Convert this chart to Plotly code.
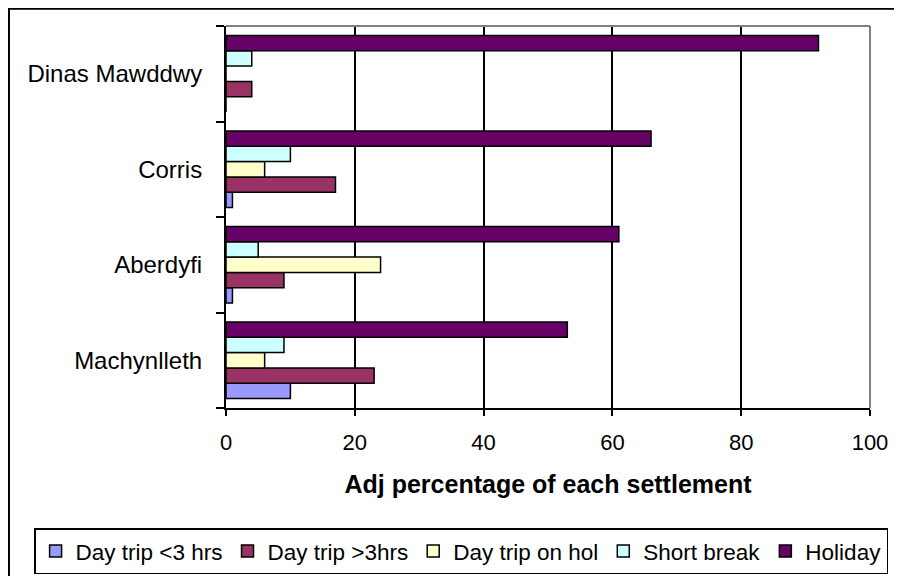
import plotly.graph_objects as go

# --- DATA ---
settlements = ["Machynlleth", "Aberdyfi", "Corris", "Dinas Mawddwy"]
day_trip_under3 = [10, 1, 1, 0]
day_trip_over3 = [23, 9, 17, 4]
day_trip_on_hol = [6, 24, 6, 0]
short_break = [9, 5, 10, 4]
holiday = [53, 61, 66, 92]

series = [
    ("Day trip <3 hrs", day_trip_under3, "#9999FF"),
    ("Day trip >3hrs", day_trip_over3, "#993366"),
    ("Day trip on hol", day_trip_on_hol, "#FFFFCC"),
    ("Short break", short_break, "#CCFFFF"),
    ("Holiday", holiday, "#660066"),
]

FONT = "Arial, Liberation Sans, sans-serif"

fig = go.Figure()
for name, vals, col in series:
    fig.add_trace(
        go.Bar(
            y=settlements,
            x=vals,
            name=name,
            orientation="h",
            marker=dict(color=col, line=dict(color="black", width=1.5)),
        )
    )

# page body has an 8px margin, so the figure is laid out 8px up/left
fig.update_layout(
    width=902,
    height=576,
    margin=dict(l=218, r=40, t=18, b=176, autoexpand=False),
    paper_bgcolor="white",
    plot_bgcolor="white",
    barmode="group",
    bargap=0.2,
    bargroupgap=0,
    font=dict(family=FONT, size=22, color="black"),
    legend=dict(
        orientation="h",
        x=-0.298,
        xanchor="left",
        y=-0.315,
        yanchor="top",
        bordercolor="black",
        borderwidth=1.5,
        font=dict(size=22.5),
        itemwidth=30,
    ),
    xaxis=dict(
        range=[0, 100],
        dtick=20,
        showgrid=True,
        gridcolor="black",
        gridwidth=2,
        zeroline=False,
        showline=True,
        linecolor="black",
        linewidth=2,
        ticks="outside",
        ticklen=6,
        tickwidth=2,
        tickcolor="black",
        tickfont=dict(size=22),
        ticklabelstandoff=8,
        title=dict(
            text="<b>Adj percentage of each settlement</b>",
            font=dict(size=25),
            standoff=21,
        ),
    ),
    yaxis=dict(
        categoryorder="array",
        categoryarray=settlements,
        showgrid=False,
        showline=True,
        linecolor="black",
        linewidth=2,
        ticks="outside",
        tickson="boundaries",
        ticklen=8,
        tickwidth=2,
        tickcolor="black",
        tickfont=dict(size=24),
        ticklabelstandoff=17,
    ),
    shapes=[
        # grey plot-area border (top and right)
        dict(type="line", xref="paper", yref="paper", x0=0, x1=1, y0=1, y1=1,
             line=dict(color="#808080", width=2)),
        dict(type="line", xref="paper", yref="paper", x0=1, x1=1, y0=0, y1=1,
             line=dict(color="#808080", width=2)),
        # outer chart frame
        dict(type="rect", xref="paper", yref="paper", x0=-0.337, x1=1.08,
             y0=-0.5, y1=1.045, line=dict(color="black", width=2)),
    ],
)

fig.write_html("out.html")
